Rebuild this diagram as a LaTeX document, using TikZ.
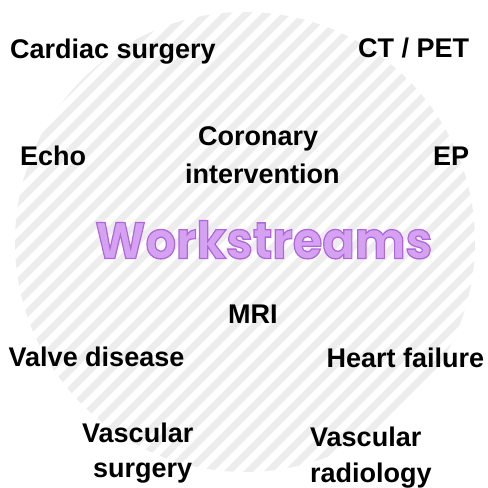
\documentclass[tikz,border=0pt]{standalone}
\usepackage{fontspec}
\setmainfont{Liberation Sans}
\newfontfamily\wsfont{Poppins}
\usepackage{graphicx}
\definecolor{stripegray}{RGB}{237,237,237}
\definecolor{wspurple}{RGB}{212,162,240}
\newcommand{\outlinetext}[1]{\special{pdf:literal direct 0.70 0.40 0.87 RG 2 Tr 0.25 w}#1\special{pdf:literal direct 0 Tr}}
\begin{document}
\begin{tikzpicture}[x=1pt,y=-1pt,
  lbl/.style={font=\fontsize{27}{32}\selectfont\bfseries, inner sep=0pt, anchor=base west, text=black},
  stripeline/.style={draw=stripegray, line width=7pt}]
\useasboundingbox (0,0) rectangle (488,488);
\fill[white] (0,0) rectangle (488,488);
\begin{scope}
  \clip (245,242) circle (230pt);
  \foreach \c in {0,20,...,1000}
    \draw[stripeline] (\c,0) -- ({\c-488},488);
\end{scope}
\node[inner sep=0pt, anchor=base west, text=wspurple] (ws) at (95,258.5)
  {\resizebox{337pt}{38pt}{\wsfont\bfseries\outlinetext{Workstreams}}};
\node[lbl] (cardiac) at (10,58) {Cardiac surgery};
\node[lbl] (ctpet) at (358,57) {CT / PET};
\node[lbl] (echo) at (20,165) {Echo};
\node[lbl] (cor1) at (198,145) {Coronary};
\node[lbl] (cor2) at (185,183) {intervention};
\node[lbl] (ep) at (433,165) {EP};
\node[lbl] (mri) at (228,323) {MRI};
\node[lbl] (valve) at (8.5,366) {Valve disease};
\node[lbl] (hf) at (326.5,367) {Heart failure};
\node[lbl] (vs1) at (82,442) {Vascular};
\node[lbl] (vs2) at (93,477) {surgery};
\node[lbl] (vr1) at (310,446) {Vascular};
\node[lbl] (vr2) at (310,482) {radiology};
\end{tikzpicture}
\end{document}
